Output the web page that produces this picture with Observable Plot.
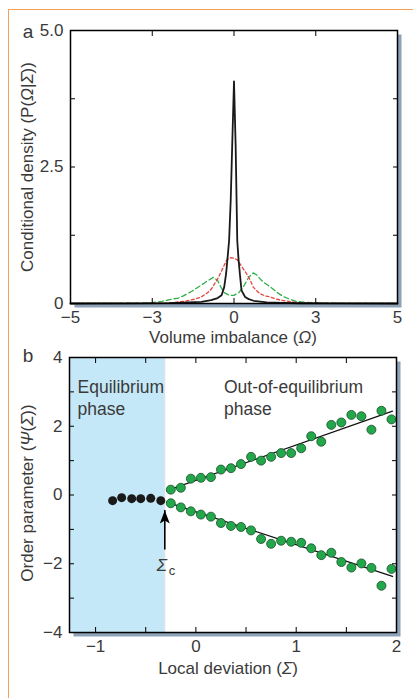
<!DOCTYPE html>
<html><head><meta charset="utf-8">
<script src="https://cdn.jsdelivr.net/npm/d3@7"></script>
<script src="https://cdn.jsdelivr.net/npm/@observablehq/plot@0.6"></script>
<style>
body{margin:0;background:#fff;}
#wrap{position:relative;width:413px;height:698px;overflow:hidden;font-family:"Liberation Sans",Arial,sans-serif;}
#border{position:absolute;left:8px;top:9px;width:420px;height:700px;border-left:1.5px solid #f5a35a;border-top:1.5px solid #f5a35a;}
#a{position:absolute;left:0;top:0;}
#b{position:absolute;left:0;top:345px;}
svg{overflow:visible;}
</style></head><body>
<div id="wrap"><div id="border"></div><div id="a"></div><div id="b"></div></div>
<script>
// ---------- Panel a: conditional densities ----------
const blackX = [-5,-3,-2,-1.4,-1.0,-0.7,-0.5,-0.38,-0.3,-0.24,-0.15,-0.1,-0.05,0,0.05,0.1,0.14,0.18,0.23,0.34,0.45,0.6,1.0,1.5,2.0,3,5];
const blackY = [0,0.003,0.008,0.02,0.03,0.06,0.1,0.15,0.3,0.55,1.15,1.9,3.0,4.07,2.9,1.15,0.8,0.54,0.24,0.12,0.08,0.05,0.02,0.01,0.005,0.002,0];
const redX = [-5,-3,-2.5,-2,-1.5,-1.2,-1.0,-0.8,-0.7,-0.5,-0.33,-0.22,-0.1,0,0.1,0.18,0.28,0.39,0.5,0.59,0.7,0.79,0.95,1.1,1.3,1.5,1.75,2.0,2.5,3,5];
const redY = [0,0.002,0.005,0.01,0.04,0.08,0.12,0.2,0.26,0.45,0.66,0.8,0.84,0.83,0.8,0.73,0.64,0.54,0.42,0.3,0.23,0.18,0.14,0.12,0.08,0.055,0.03,0.015,0.005,0.002,0];
const greenX = [-5,-3,-2.5,-2.2,-1.9,-1.7,-1.55,-1.3,-1.04,-0.85,-0.63,-0.5,-0.4,-0.3,-0.15,0,0.15,0.3,0.45,0.59,0.7,0.8,0.9,1.05,1.2,1.35,1.5,1.7,1.9,2.2,2.6,3,5];
const greenY = [0,0.005,0.015,0.04,0.08,0.1,0.14,0.22,0.32,0.4,0.48,0.42,0.3,0.2,0.15,0.15,0.2,0.32,0.48,0.56,0.52,0.45,0.39,0.33,0.26,0.19,0.13,0.08,0.04,0.02,0.01,0.005,0];
const aXTicks = [-5,-2.5,0,2.5,5];
const aXTickLabels = ["\u22125","\u22123","0","3","5"];
const aYTicks = [0,1.25,2.5,3.75,5];
const aYLabelTicks = [0,2.5,5];
const aYTickLabels = ["0","2.5","5.0"];

// ---------- Panel b: order parameter ----------
const eqX = [-0.83,-0.74,-0.64,-0.55,-0.45,-0.35];
const eqY = [-0.165,-0.078,-0.107,-0.107,-0.097,-0.165];
const outX = [-0.25,-0.15,-0.05,0.05,0.15,0.25,0.35,0.45,0.55,0.65,0.75,0.85,0.95,1.05,1.15,1.25,1.35,1.45,1.55,1.65,1.75,1.85,1.95];
const outUpper = [0.155,0.21,0.475,0.50,0.52,0.74,0.78,0.90,1.11,1.00,1.11,1.22,1.22,1.36,1.71,1.55,2.04,2.11,2.33,2.29,1.90,2.45,2.20];
const outLower = [-0.24,-0.36,-0.475,-0.57,-0.63,-0.815,-0.90,-0.93,-1.03,-1.28,-1.42,-1.33,-1.36,-1.39,-1.55,-1.75,-1.68,-1.95,-2.11,-1.99,-2.12,-2.64,-2.15];
const fitX = [-0.29,1.96];
const fitUpper = [0.13,2.44];
const fitLower = [-0.21,-2.37];
const sigmaC = -0.31;
const arrowFrom = -1.6, arrowTo = -0.45;
const sigmaLabelY = -2.05;
const phaseLabels = ["Equilibrium\nphase","Out-of-equilibrium\nphase"];
const phaseLabelX = [-1.18,0.28];
const phaseLabelY = 3.42;
const bXDomain = [-1.26,2.0];
const bYDomain = [-4,4];
const bXTicks = [-1,-0.5,0,0.5,1,1.5,2];
const bXLabelTicks = [-1,0,1,2];
const bYTicks = [-4,-3,-2,-1,0,1,2,3,4];
const bYLabelTicks = [-4,-2,0,2,4];

const TXT = "#3a3a3a";
const FONT = "'Liberation Sans', Arial, sans-serif";

function inward(xt, yt) {
  return [
    Plot.axisX({ticks: xt, anchor: "bottom", tickSize: 5, dy: -5, fill: "none", stroke: "#000", label: null}),
    Plot.axisX({ticks: xt, anchor: "top", tickSize: 5, dy: 5, fill: "none", stroke: "#000", label: null}),
    Plot.axisY({ticks: yt, anchor: "left", tickSize: 5, dx: 5, fill: "none", stroke: "#000", label: null}),
    Plot.axisY({ticks: yt, anchor: "right", tickSize: 5, dx: -5, fill: "none", stroke: "#000", label: null})
  ];
}
function labels(xt, xf, yt, yf) {
  return [
    Plot.axisX({ticks: xt, anchor: "bottom", tickSize: 0, tickPadding: 7, tickFormat: xf, fill: TXT, fontSize: 17, label: null}),
    Plot.axisY({ticks: yt, anchor: "left", tickSize: 0, tickPadding: 7, tickFormat: yf, fill: TXT, fontSize: 17, label: null})
  ];
}

const xaMap = new Map(aXTicks.map((d,i)=>[d,aXTickLabels[i]]));
const yaMap = new Map(aYLabelTicks.map((d,i)=>[d,aYTickLabels[i]]));

const black = blackX.map((x,i)=>({x, y: blackY[i]}));
const red = redX.map((x,i)=>({x, y: redY[i]}));
const green = greenX.map((x,i)=>({x, y: greenY[i]}));

const plotA = Plot.plot({
  width: 413, height: 345,
  marginLeft: 70, marginRight: 16, marginTop: 30, marginBottom: 42,
  style: {fontFamily: FONT, fontSize: "17px", background: "transparent", overflow: "visible"},
  x: {domain: [-5,5], label: null},
  y: {domain: [0,5], label: null},
  marks: [
    Plot.frame({fill: "#8ea2b8", dx: 4, dy: 4}),
    Plot.frame({fill: "#fff"}),
    Plot.line(green, {x: "x", y: "y", stroke: "#2fb04a", strokeWidth: 1.3, strokeDasharray: "5,3"}),
    Plot.line(red, {x: "x", y: "y", stroke: "#e8423d", strokeWidth: 1.3, strokeDasharray: "3,2.5"}),
    Plot.line(black, {x: "x", y: "y", stroke: "#1a1a1a", strokeWidth: 1.8}),
    ...inward(aXTicks, aYTicks),
    ...labels(aXTicks, d => xaMap.get(d), aYLabelTicks, d => yaMap.get(d)),
    Plot.frame({stroke: "#000", strokeWidth: 1.5})
  ]
});
document.getElementById("a").appendChild(plotA);

const upper = outX.map((x,i)=>({x, y: outUpper[i]}));
const lower = outX.map((x,i)=>({x, y: outLower[i]}));
const eq = eqX.map((x,i)=>({x, y: eqY[i]}));
const fitU = fitX.map((x,i)=>({x, y: fitUpper[i]}));
const fitL = fitX.map((x,i)=>({x, y: fitLower[i]}));
const arrowHead = {draw(ctx) { ctx.moveTo(0,0); ctx.lineTo(5,13); ctx.lineTo(0,10); ctx.lineTo(-5,13); ctx.closePath(); }};

const plotB = Plot.plot({
  width: 413, height: 340,
  marginLeft: 69, marginRight: 17, marginTop: 12, marginBottom: 53,
  style: {fontFamily: FONT, fontSize: "17px", background: "transparent", overflow: "visible"},
  x: {domain: bXDomain, label: null},
  y: {domain: bYDomain, label: null},
  marks: [
    Plot.frame({fill: "#8ea2b8", dx: 4, dy: 4}),
    Plot.frame({fill: "#fff"}),
    Plot.rect([sigmaC], {x1: bXDomain[0], x2: d => d, y1: bYDomain[0], y2: bYDomain[1], fill: "#c5e8f8"}),
    Plot.ruleX([sigmaC], {stroke: "#d6dde2", strokeWidth: 1}),
    Plot.text(phaseLabels, {x: (d,i)=>phaseLabelX[i], y: phaseLabelY, text: d=>d, textAnchor: "start", lineAnchor: "top", lineHeight: 1.27, fontSize: 17.5, fill: TXT}),
    Plot.line(fitU, {x: "x", y: "y", stroke: "#111", strokeWidth: 1.3}),
    Plot.line(fitL, {x: "x", y: "y", stroke: "#111", strokeWidth: 1.3}),
    Plot.dot(eq, {x: "x", y: "y", r: 4.5, fill: "#1a1a1a", stroke: "none"}),
    Plot.dot(upper, {x: "x", y: "y", r: 4.5, fill: "#22a84a", stroke: "#1b4d2a", strokeWidth: 0.8}),
    Plot.dot(lower, {x: "x", y: "y", r: 4.5, fill: "#22a84a", stroke: "#1b4d2a", strokeWidth: 0.8}),
    Plot.ruleX([sigmaC], {y1: arrowFrom, y2: arrowTo, stroke: "#000", strokeWidth: 1.6, dy: 0}),
    Plot.dot([sigmaC], {x: d => d, y: arrowTo, symbol: arrowHead, fill: "#000", stroke: "none", r: 5}),
    Plot.text([sigmaC], {x: d => d, y: sigmaLabelY, text: () => "\u03A3", fontStyle: "italic", fontSize: 17, fill: TXT, textAnchor: "middle", dx: -3}),
    Plot.text([sigmaC], {x: d => d, y: sigmaLabelY, text: () => "c", fontSize: 13, fill: TXT, textAnchor: "start", dx: 4, dy: 5}),
    ...inward(bXTicks, bYTicks),
    ...labels(bXLabelTicks, d => d3.format("")(d).replace("-", "\u2212"), bYLabelTicks, d => d3.format("")(d).replace("-", "\u2212")),
    Plot.frame({stroke: "#000", strokeWidth: 1.5})
  ]
});
document.getElementById("b").appendChild(plotB);

// axis titles and panel letters (real text, with italic Greek symbols)
function title(svg, x, y, rotate, parts, size) {
  const t = d3.select(svg).append("text")
    .attr("transform", `translate(${x},${y})` + (rotate ? " rotate(-90)" : ""))
    .attr("text-anchor", "middle").attr("fill", TXT)
    .attr("font-family", FONT).attr("font-size", size || 17);
  for (const [s, it] of parts) t.append("tspan").text(s).attr("font-style", it ? "italic" : null);
}
title(plotA, 33, 167, true, [["Conditional density (P(", 0], ["\u03A9", 1], ["|", 0], ["\u03A3", 1], ["))", 0]]);
title(plotA, 233, 343, false, [["Volume imbalance (", 0], ["\u03A9", 1], [")", 0]]);
title(plotA, 28, 38, false, [["a", 0]], 19);
title(plotB, 33, 148, true, [["Order parameter (", 0], ["\u03A8", 1], ["(", 0], ["\u03A3", 1], ["))", 0]]);
title(plotB, 228, 329, false, [["Local deviation (", 0], ["\u03A3", 1], [")", 0]]);
title(plotB, 28, 17, false, [["b", 0]], 19);
</script>
</body></html>
